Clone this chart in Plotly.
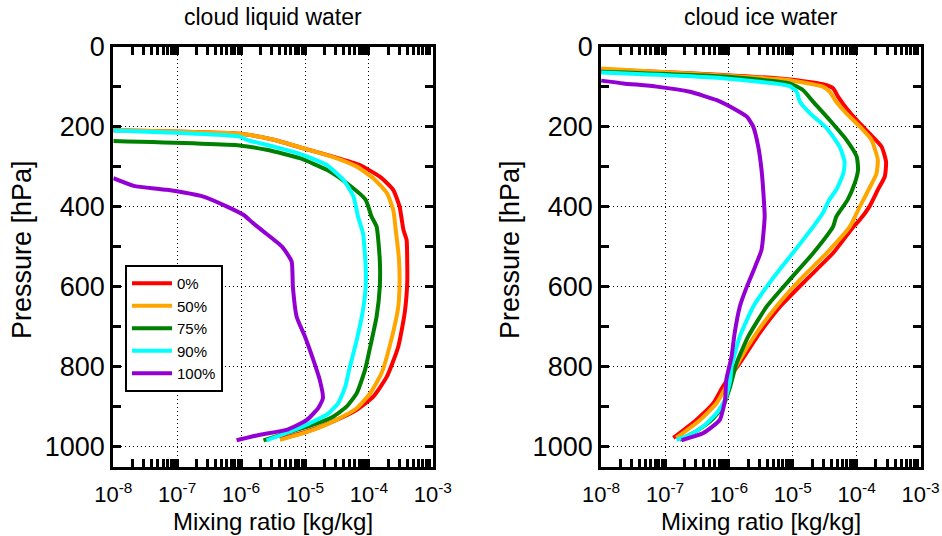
import plotly.graph_objects as go

# ---------------- data ----------------
labels = ["0%", "50%", "75%", "90%", "100%"]
colors = ["#ff0000", "#ffa500", "#008000", "#00ffff", "#9400d3"]

# cloud liquid water : pressure [hPa] and mixing ratio [kg/kg]
liq_p_0 = [209, 218, 233, 254, 275, 296, 325, 358, 400, 458, 483, 540, 591, 666, 750, 825, 875, 908, 937, 962, 981]
liq_q_0 = [1.0e-8, 1.0e-6, 3.24e-6, 9.3e-6, 2.75e-5, 7.2e-5, 1.48e-4, 2.4e-4, 3.02e-4, 3.47e-4, 3.89e-4, 3.98e-4,
           3.98e-4, 3.63e-4, 2.88e-4, 1.91e-4, 1.17e-4, 6.46e-5, 2.75e-5, 1.07e-5, 4.07e-6]
liq_p_50 = [209, 218, 233, 254, 275, 300, 329, 366, 408, 458, 530, 591, 650, 733, 816, 866, 904, 933, 958, 983]
liq_q_50 = [1.0e-8, 1.0e-6, 3.24e-6, 9.3e-6, 2.63e-5, 6.46e-5, 1.17e-4, 1.91e-4, 2.4e-4, 2.63e-4, 2.95e-4, 3.02e-4,
            2.88e-4, 2.24e-4, 1.58e-4, 1.05e-4, 6.46e-5, 3.09e-5, 1.35e-5, 4.07e-6]
liq_p_75 = [236, 247, 258, 279, 308, 341, 383, 425, 450, 533, 601, 675, 750, 808, 866, 900, 925, 945, 966, 984]
liq_q_75 = [1.0e-8, 9.5e-7, 2.51e-6, 8.3e-6, 2.19e-5, 4.47e-5, 8.9e-5, 1.10e-4, 1.32e-4, 1.48e-4, 1.48e-4, 1.32e-4,
            1.05e-4, 8.7e-5, 6.46e-5, 4.47e-5, 2.75e-5, 1.35e-5, 5.1e-6, 2.24e-6]
liq_p_90 = [210, 225, 233, 250, 268, 296, 333, 375, 425, 467, 550, 600, 658, 733, 808, 850, 891, 920, 941, 962, 984]
liq_q_90 = [1.0e-8, 9.5e-7, 1.23e-6, 3.24e-6, 8.3e-6, 2.19e-5, 3.98e-5, 5.75e-5, 6.76e-5, 8.1e-5, 8.9e-5, 8.9e-5,
            8.1e-5, 6.46e-5, 4.9e-5, 4.27e-5, 3.31e-5, 2.19e-5, 1.20e-5, 5.9e-6, 2.51e-6]
liq_p_100 = [329, 348, 358, 375, 400, 421, 440, 462, 500, 537, 600, 675, 725, 783, 833, 878, 903, 933, 958, 970, 984]
liq_q_100 = [1.0e-8, 2.09e-8, 6.9e-8, 2.57e-7, 6.03e-7, 1.10e-6, 1.51e-6, 2.24e-6, 4.37e-6, 6.17e-6, 6.46e-6, 7.4e-6,
             1.0e-5, 1.35e-5, 1.70e-5, 1.91e-5, 1.62e-5, 1.07e-5, 5.1e-6, 2.0e-6, 8.5e-7]

# cloud ice water
ice_p_0 = [57, 63, 71, 82, 94, 104, 125, 154, 184, 217, 250, 288, 325, 358, 400, 433, 450, 516, 583, 650, 716, 791,
           849, 891, 933, 978]
ice_q_0 = [1.0e-8, 7.4e-8, 8.1e-7, 8.9e-6, 2.95e-5, 4.27e-5, 5.1e-5, 6.9e-5, 1.0e-4, 1.58e-4, 2.45e-4, 2.88e-4,
           2.75e-4, 2.14e-4, 1.58e-4, 1.12e-4, 8.9e-5, 4.27e-5, 1.62e-5, 6.3e-6, 3.02e-6, 1.48e-6, 8.1e-7, 5.75e-7,
           3.09e-7, 1.35e-7]
ice_p_50 = [55, 63, 72, 84, 100, 113, 138, 167, 200, 233, 283, 317, 354, 400, 450, 516, 583, 650, 716, 783, 849, 891,
            933, 978]
ice_q_50 = [1.0e-8, 7.4e-8, 8.1e-7, 8.9e-6, 2.95e-5, 3.8e-5, 4.79e-5, 6.9e-5, 1.12e-4, 1.70e-4, 2.14e-4, 2.04e-4,
            1.58e-4, 1.12e-4, 7.8e-5, 3.39e-5, 1.29e-5, 5.5e-6, 2.69e-6, 1.48e-6, 9.1e-7, 6.46e-7, 3.55e-7, 1.51e-7]
ice_p_75 = [63, 75, 92, 109, 138, 184, 233, 275, 308, 342, 383, 425, 450, 516, 583, 650, 725, 791, 849, 899, 933, 961,
            983]
ice_q_75 = [1.0e-8, 8.1e-7, 8.9e-6, 1.45e-5, 2.09e-5, 3.8e-5, 6.9e-5, 1.0e-4, 1.05e-4, 9.3e-5, 7.2e-5, 4.79e-5,
            4.27e-5, 2.09e-5, 8.9e-6, 3.89e-6, 2.0e-6, 1.32e-6, 1.05e-6, 8.1e-7, 5.4e-7, 3.09e-7, 1.70e-7]
ice_p_90 = [65, 79, 99, 113, 138, 167, 204, 250, 288, 317, 358, 383, 416, 450, 516, 583, 650, 725, 800, 833, 883, 916,
            949, 970, 983]
ice_q_90 = [1.0e-8, 8.1e-7, 8.9e-6, 1.15e-5, 1.29e-5, 1.86e-5, 3.39e-5, 5.4e-5, 6.46e-5, 6.17e-5, 4.79e-5, 3.72e-5,
            2.95e-5, 2.09e-5, 1.0e-5, 4.68e-6, 2.4e-6, 1.48e-6, 1.10e-6, 1.05e-6, 8.7e-7, 6.46e-7, 3.98e-7, 2.45e-7,
            1.51e-7]
ice_p_100 = [85, 92, 100, 113, 134, 159, 175, 200, 250, 308, 392, 425, 508, 550, 600, 650, 716, 775, 833, 883, 933,
             966, 984]
ice_q_100 = [1.0e-8, 2.24e-8, 7.4e-8, 2.45e-7, 6.46e-7, 1.32e-6, 1.91e-6, 2.4e-6, 2.88e-6, 3.24e-6, 3.55e-6, 3.63e-6,
             3.24e-6, 2.57e-6, 1.91e-6, 1.48e-6, 1.23e-6, 1.10e-6, 9.1e-7, 8.7e-7, 7.2e-7, 3.98e-7, 1.82e-7]

x_tickvals = [1e-8, 1e-7, 1e-6, 1e-5, 1e-4, 1e-3]
x_ticktext = ["10<sup>-8</sup>", "10<sup>-7</sup>", "10<sup>-6</sup>", "10<sup>-5</sup>", "10<sup>-4</sup>",
              "10<sup>-3</sup>"]
y_tickvals = [0, 200, 400, 600, 800, 1000]
y_ticktext = ["0", "200", "400", "600", "800", "1000"]

panel_titles = ["cloud liquid water", "cloud ice water"]
x_title = "Mixing ratio [kg/kg]"
y_title = "Pressure [hPa]"

# ---------------- figure ----------------
W, H = 942, 536
FONT = "Liberation Sans, Arial, Helvetica, sans-serif"

liq = [(liq_q_0, liq_p_0), (liq_q_50, liq_p_50), (liq_q_75, liq_p_75), (liq_q_90, liq_p_90), (liq_q_100, liq_p_100)]
ice = [(ice_q_0, ice_p_0), (ice_q_50, ice_p_50), (ice_q_75, ice_p_75), (ice_q_90, ice_p_90), (ice_q_100, ice_p_100)]

fig = go.Figure()
for i in range(5):
    fig.add_trace(go.Scatter(x=liq[i][0], y=liq[i][1], mode="lines", name=labels[i],
                             line=dict(color=colors[i], width=4, shape="spline", smoothing=0.5),
                             xaxis="x", yaxis="y"))
for i in range(5):
    fig.add_trace(go.Scatter(x=ice[i][0], y=ice[i][1], mode="lines", name=labels[i], showlegend=False,
                             line=dict(color=colors[i], width=4, shape="spline", smoothing=0.5),
                             xaxis="x2", yaxis="y2"))


def px_x(v):
    return v / W


def px_y(v):
    return 1 - v / H


xax = dict(type="log", range=[-8, -3], tickmode="array", tickvals=x_tickvals, ticktext=x_ticktext,
           ticks="inside", ticklen=8, tickwidth=3, tickcolor="black",
           showline=True, linewidth=3, linecolor="black", mirror="ticks",
           showgrid=True, gridcolor="black", gridwidth=1, griddash="1px,3px",
           minor=dict(ticks="inside", ticklen=8, tickwidth=3, tickcolor="black", dtick="D1", showgrid=False),
           tickfont=dict(size=22, color="black", family=FONT), ticklabelstandoff=6,
           zeroline=False, automargin=False)
yax = dict(range=[1050, 0], tickmode="array", tickvals=y_tickvals, ticktext=y_ticktext,
           ticks="inside", ticklen=0, tickwidth=3, tickcolor="black",
           showline=True, linewidth=3, linecolor="black", mirror="ticks",
           showgrid=True, gridcolor="black", gridwidth=1, griddash="1px,3px",
           minor=dict(ticks="inside", ticklen=8, tickwidth=3, tickcolor="black", dtick=100, showgrid=False),
           tickfont=dict(size=27, color="black", family=FONT), zeroline=False, automargin=False)

y_dom = [px_y(466.7), px_y(46.6)]
fig.update_layout(
    width=W, height=H, margin=dict(l=0, r=0, t=0, b=0, pad=0, autoexpand=False),
    paper_bgcolor="white", plot_bgcolor="white",
    font=dict(family=FONT, color="black"),
    xaxis=dict(xax, domain=[px_x(113.3), px_x(432.8)], anchor="y"),
    yaxis=dict(yax, domain=y_dom, anchor="x"),
    xaxis2=dict(xax, domain=[px_x(601.1), px_x(920.6)], anchor="y2"),
    yaxis2=dict(yax, domain=y_dom, anchor="x2"),
    showlegend=True,
    legend=dict(x=px_x(125), y=px_y(265), xanchor="left", yanchor="top",
                bordercolor="black", borderwidth=2, bgcolor="white", itemwidth=40,
                font=dict(size=15, color="black", family=FONT), tracegroupgap=0),
)

ann = []
for cx, t in [(272.9, panel_titles[0]), (760.5, panel_titles[1])]:
    ann.append(dict(x=px_x(cx), y=px_y(17), xref="paper", yref="paper", text=t, showarrow=False,
                    xanchor="center", yanchor="middle", font=dict(size=23, family=FONT, color="black")))
for cx in [272.7, 761]:
    ann.append(dict(x=px_x(cx), y=px_y(521), xref="paper", yref="paper", text=x_title, showarrow=False,
                    xanchor="center", yanchor="middle", font=dict(size=24, family=FONT, color="black")))
for cx in [22, 510]:
    ann.append(dict(x=px_x(cx), y=px_y(250), xref="paper", yref="paper", text=y_title, showarrow=False,
                    textangle=-90, xanchor="center", yanchor="middle",
                    font=dict(size=27, family=FONT, color="black")))
fig.update_layout(annotations=ann)

fig.write_html("out.html")
